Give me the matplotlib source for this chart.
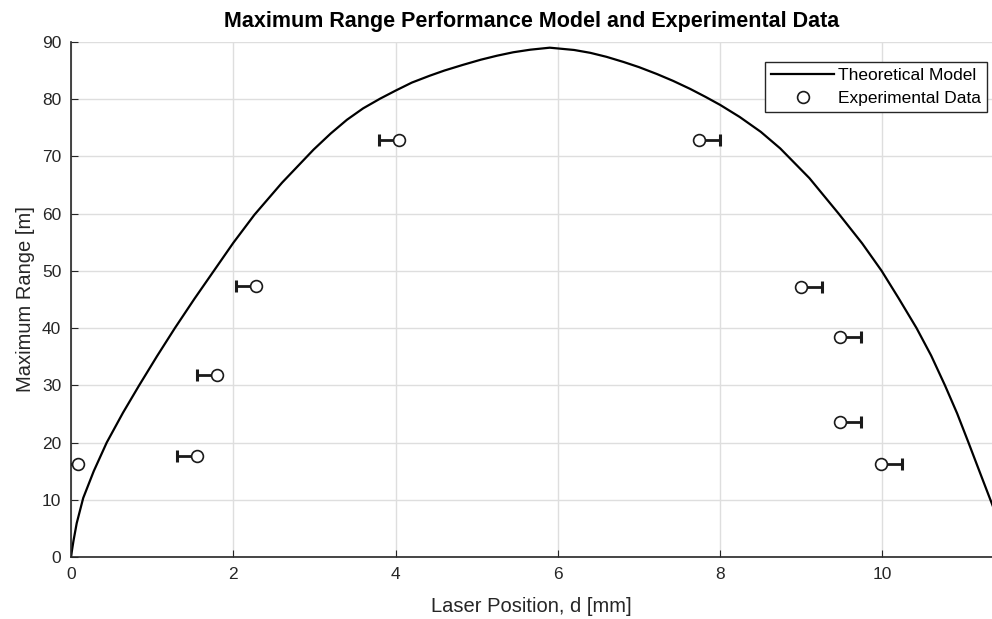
import numpy as np
import matplotlib
matplotlib.use("Agg")
import matplotlib.pyplot as plt
from matplotlib.lines import Line2D

plt.rcParams['font.family'] = ['Liberation Sans', 'DejaVu Sans']

# theoretical model curve
model_d = [0, 0.01, 0.03, 0.07, 0.15, 0.28, 0.44, 0.64, 0.84, 1.06, 1.28, 1.52,
           1.76, 2.0, 2.26, 2.6, 2.99, 3.2, 3.40, 3.6, 3.81, 4.0, 4.2, 4.42, 4.6,
           4.83, 5.05, 5.25, 5.45, 5.66, 5.9, 6.2, 6.40, 6.6, 6.81, 7.0, 7.22,
           7.42, 7.63, 7.82, 8.0, 8.24, 8.5, 8.74, 9.1, 9.46, 9.75, 9.99, 10.2,
           10.42, 10.6, 10.77, 10.92, 11.06, 11.2, 11.33, 11.36]
model_range = [0, 1.0, 2.8, 5.9, 10.3, 15.0, 20, 25.2, 30, 35.1, 40, 45.1,
               50, 54.9, 59.8, 65.4, 71.2, 74.0, 76.4, 78.4, 80.1, 81.5, 82.9, 84.1, 85.0,
               86.0, 86.9, 87.6, 88.2, 88.65, 89.0, 88.6, 88.1, 87.4, 86.5, 85.6, 84.4,
               83.2, 81.8, 80.4, 79.0, 76.9, 74.3, 71.4, 66.2, 60, 54.8, 50, 45.2,
               40, 35.2, 30, 25.1, 20, 14.8, 10, 8.9]

# experimental data with one-sided x errors
exp_d = [0.08, 1.55, 1.80, 2.28, 4.04, 7.74, 8.99, 9.48, 9.48, 9.98]
exp_range = [16.2, 17.7, 31.8, 47.4, 72.9, 72.8, 47.1, 38.4, 23.6, 16.2]
err_neg = [0.25, 0.25, 0.25, 0.25, 0.25, 0, 0, 0, 0, 0]
err_pos = [0, 0, 0, 0, 0, 0.26, 0.26, 0.26, 0.26, 0.26]

fig = plt.figure(figsize=(9.92, 6.19), dpi=100)
ax = fig.add_axes([0.0716, 0.1002, 0.9284, 0.832])

ax.plot(model_d, model_range, color='k', lw=1.6, solid_joinstyle='round')

x = np.array(exp_d)
y = np.array(exp_range)
ends = x - np.array(err_neg) + np.array(err_pos)
ax.hlines(y, x, ends, color='#1a1a1a', lw=2.0, zorder=3)
ax.plot(ends, y, ls='none', marker='|', ms=8, mew=2.2, color='#1a1a1a', zorder=3)
ax.plot(x, y, ls='none', marker='o', mfc='white', mec='#1a1a1a', ms=8.5,
        mew=1.2, zorder=4)

ax.set_xlim(0, 11.35)
ax.set_ylim(0, 90)
ax.set_xticks(np.arange(0, 11, 2))
ax.set_yticks(np.arange(0, 91, 10))
ax.grid(True, color='#dedede', lw=1)
ax.set_axisbelow(True)
ax.spines['top'].set_visible(False)
ax.spines['right'].set_visible(False)
for s in ['left', 'bottom']:
    ax.spines[s].set_color('#262626')
    ax.spines[s].set_linewidth(1.2)
ax.tick_params(direction='in', length=5, color='#262626', labelcolor='#262626',
               labelsize=12.5, top=False, right=False, pad=7)

ax.set_xlabel('Laser Position, d [mm]', fontsize=14.5, color='#262626', labelpad=11)
ax.set_ylabel('Maximum Range [m]', fontsize=14.5, color='#262626', labelpad=5)
ax.set_title('Maximum Range Performance Model and Experimental Data',
             fontsize=15.5, fontweight='bold', pad=11)

handles = [Line2D([], [], color='k', lw=1.6),
           Line2D([], [], ls='none', marker='o', mfc='white', mec='#1a1a1a',
                  ms=8.5, mew=1.2)]
labels = ['Theoretical Model', 'Experimental Data']
leg = ax.legend(handles, labels, loc='upper right', bbox_to_anchor=(0.995, 0.962),
                fontsize=12.5, frameon=True, fancybox=False, framealpha=1,
                edgecolor='#262626', handlelength=3.6, borderpad=0.35,
                labelspacing=0.45, handletextpad=0.25, borderaxespad=0)
leg.get_frame().set_linewidth(1.0)

fig.savefig('out.png', dpi=100)
